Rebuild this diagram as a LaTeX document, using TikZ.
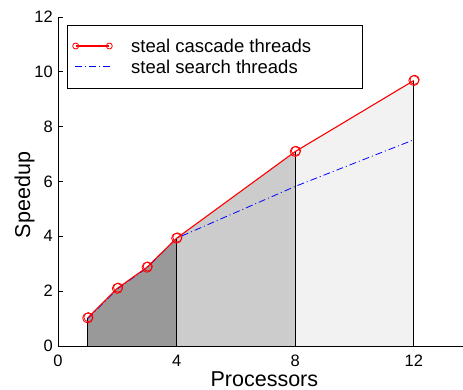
\documentclass[tikz,border=0pt]{standalone}
\usepackage{fontspec}
\setmainfont{Liberation Sans}
\definecolor{darkfill}{HTML}{999999}
\definecolor{midfill}{HTML}{CCCCCC}
\definecolor{lightfill}{HTML}{F2F2F2}
\begin{document}
\begin{tikzpicture}[x=1pt,y=-1pt,
  axisline/.style={black,line width=0.9pt},
  ticklbl/.style={inner sep=0pt,font=\fontsize{16.5}{18}\selectfont},
  axlbl/.style={inner sep=0pt,font=\fontsize{21.5}{24}\selectfont},
  legtext/.style={inner sep=0pt,anchor=base west,font=\fontsize{18.5}{21}\selectfont},
  redline/.style={red,line width=1.1pt},
  blueline/.style={blue,line width=0.8pt,dash pattern=on 7pt off 3pt on 1pt off 3pt},
  sep/.style={black,line width=0.8pt}]
\useasboundingbox (0,0) rectangle (463,390);
\fill[white] (0,0) rectangle (463,390);
\begin{scope}[shift={(58,346)},x=29.65pt,y=27.42pt]
  % filled areas
  \fill[darkfill] (1,0) -- (1,1.02) -- (2,2.1) -- (3,2.87) -- (4,3.93) -- (4,0) -- cycle;
  \fill[midfill] (4,0) -- (4,3.93) -- (8,7.09) -- (8,0) -- cycle;
  \fill[lightfill] (8,0) -- (8,7.09) -- (12,9.68) -- (12,0) -- cycle;
  \draw[sep] (1,0) -- (1,1.02);
  \draw[sep] (4,0) -- (4,3.93);
  \draw[sep] (8,0) -- (8,7.09);
  \draw[sep] (12,0) -- (12,9.68);
  % blue series
  \draw[blueline] (1,1.0) -- (2,2.08) -- (3,2.85) -- (4,3.93) -- (8,5.82) -- (12,7.52);
  % red series
  \draw[redline] (1,1.02) -- (2,2.1) -- (3,2.87) -- (4,3.93) -- (8,7.09) -- (12,9.68);
  \foreach \px/\py in {1/1.02,2/2.1,3/2.87,4/3.93,8/7.09,12/9.68}{
    \draw[red,line width=0.8pt] (\px,\py) circle[radius=5pt];
    \draw[red,line width=0.8pt] ([xshift=0.8pt,yshift=0.8pt]\px,\py) circle[radius=4.6pt];
  }
  % axes
  \draw[axisline] (0,12) -- (0,0) -- (13.66,0);
  \foreach \v in {0,2,4,6,8,10,12}{
    \draw[axisline] (0,\v) -- ++(5pt,0);
    \node[ticklbl,anchor=east] (yt\v) at ([xshift=-5pt]0,\v) {\v};
  }
  \foreach \v in {0,4,8,12}{
    \draw[axisline] (\v,0) -- ++(0,5pt);
    \node[ticklbl,anchor=north] (xt\v) at ([yshift=-9pt]\v,0) {\v};
  }
\end{scope}
% axis labels
\node[axlbl,anchor=base] (xlabel) at (264.4,386.7) {Processors};
\node[axlbl,anchor=base,rotate=90] (ylabel) at (30,195) {Speedup};
% legend
\draw[black,line width=0.9pt,fill=white] (67.5,25) rectangle (362.5,88);
\coordinate (la) at (75.7,46);
\coordinate (lb) at (109.3,46);
\draw[redline] (la) -- (lb);
\draw[red,line width=0.8pt] (la) circle[radius=3pt];
\draw[red,line width=0.8pt] (lb) circle[radius=3pt];
\coordinate (lc) at (75,66);
\coordinate (ld) at (110,66);
\draw[blueline] (lc) -- (ld);
\node[legtext] (leg1) at (131,52.3) {steal cascade threads};
\node[legtext] (leg2) at (131,73.3) {steal search threads};
\end{tikzpicture}
\end{document}
